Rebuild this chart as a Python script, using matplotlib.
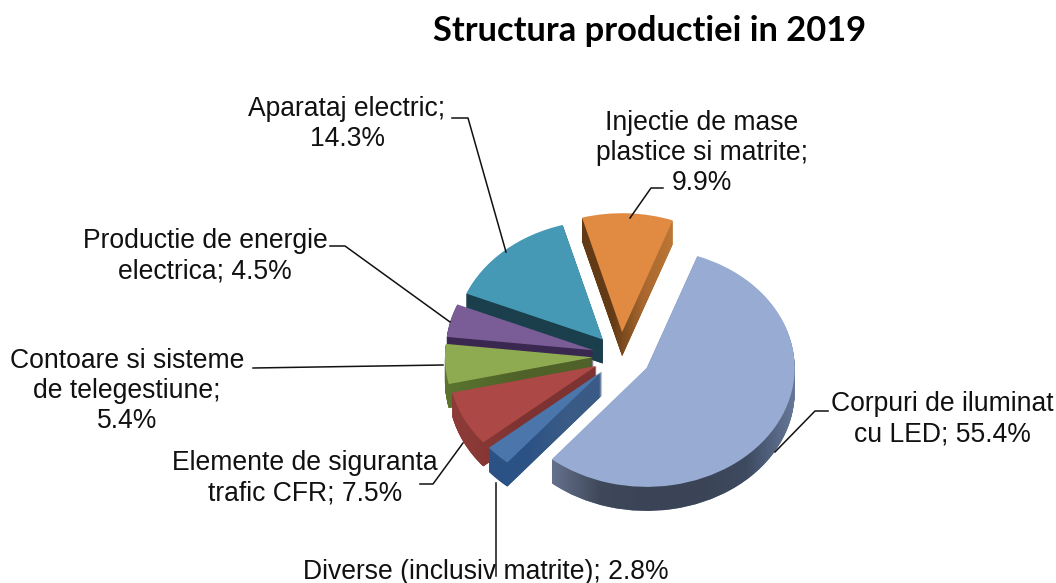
import numpy as np
import matplotlib
matplotlib.use('Agg')
import matplotlib.pyplot as plt
from matplotlib.colors import LinearSegmentedColormap
from matplotlib.path import Path

# datos del grafico, empezando por la porcion grande y en sentido horario
categorias = ['Corpuri de iluminat\ncu LED; 55.4%', 'Diverse (inclusiv matrite); 2.8%',
              'Elemente de siguranta\ntrafic CFR; 7.5%', 'Contoare si sisteme\nde telegestiune;\n5.4%',
              'Productie de energie\nelectrica; 4.5%', 'Aparataj electric;\n14.3%',
              'Injectie de mase\nplastice si matrite;\n9.9%']
valores = [55.4, 2.8, 7.5, 5.4, 4.5, 14.3, 9.9]
explode = [0.2, 0.18, 0.185, 0.19, 0.19, 0.185, 0.2]
colores = ['#97abd3', '#4a76ac', '#ac4845', '#8fab52', '#7a5c96', '#4699b5', '#e08a42']
# color de la pared, de izquierda a derecha
paredes = [['#65718c', '#3f4859', '#3b4456', '#3b4456', '#3e4a60', '#66789a'],
           ['#2c5285', '#2c5285', '#3a5b86', '#3a5b86'],
           ['#8f3c39', '#7d3331', '#7d3331'],
           ['#5b7530', '#4f6229', '#4f6229'],
           ['#3a2850', '#3a2850'],
           ['#1b3f4c', '#1b3f4c'],
           ['#633b16', '#633b16', '#a8672f', '#bd7735']]

# posicion de los textos y lineas guia (en pixeles de la imagen)
pos_textos = [(942, 419.5), (486, 572), (305, 478.5), (127, 391), (205, 256.5), (347, 124), (702, 153)]
guias = [[(828, 411), (815, 411), (775, 452)],
         [(496, 576), (496, 483)],
         [(420, 484), (433, 484), (463, 443)],
         [(253, 368), (443, 365)],
         [(330, 246), (345, 246), (450, 322)],
         [(452, 118), (468, 118), (506, 252)],
         [(663, 188), (651, 188), (630, 218)]]

W, H = 1056, 583
cx, cy = 621, 356    # centro del pie
rx, ry = 148, 119    # radios de la elipse
prof = 24            # profundidad en pixeles

fig = plt.figure(figsize=(W / 100, H / 100), dpi=100)
ax = fig.add_axes([0, 0, 1, 1])

n = len(valores)
trazos = [[] for _ in valores]
# pie por capas, de abajo hacia arriba
for capa in range(prof + 1):
    dy = (prof - capa) / ry
    wedges, _ = ax.pie(valores, explode=explode, colors=colores, startangle=70,
                       counterclock=False, center=(0, -dy), radius=1,
                       wedgeprops={'linewidth': 0})
    for i, w in enumerate(wedges):
        # cada porcion completa se pinta antes que la de delante
        w.set_zorder((n - i) * 100 + capa)
        if capa < prof:
            w.set_facecolor(paredes[i][-1])
            trazos[i].append(w.get_path().transformed(w.get_patch_transform()))

# degradado de la pared recortado a todas las capas de cada porcion
for i, caminos in enumerate(trazos):
    union = Path.make_compound_path(*caminos)
    bb = union.get_extents()
    cmap = LinearSegmentedColormap.from_list('pared', paredes[i], N=1024)
    im = ax.imshow(np.linspace(0, 1, 1024)[None, :], cmap=cmap, aspect='auto',
                   interpolation='bilinear', extent=(bb.x0, bb.x1, bb.y0, bb.y1),
                   zorder=(n - i) * 100 + prof - 0.5)
    im.set_clip_path(union, ax.transData)

ax.set_aspect('auto')
ax.set_xlim(-cx / rx, (W - cx) / rx)
ax.set_ylim(-(H - cy) / ry, cy / ry)
ax.axis('off')

# capa de textos en pixeles
ov = fig.add_axes([0, 0, 1, 1], facecolor='none')
ov.set_xlim(0, W)
ov.set_ylim(H, 0)
ov.axis('off')
for texto, (x, y), guia in zip(categorias, pos_textos, guias):
    ov.text(x, y, texto, ha='center', va='center', family='Liberation Sans',
            fontsize=19.1, color='#111111', linespacing=1.22)
    ov.plot([p[0] for p in guia], [p[1] for p in guia], color='#111111', lw=1.1)

ov.text(650, 31, 'Structura productiei in 2019', ha='center', va='center',
        family='Lato', fontweight='bold', fontsize=24.8, color='black')

fig.savefig('out.png', dpi=100)
